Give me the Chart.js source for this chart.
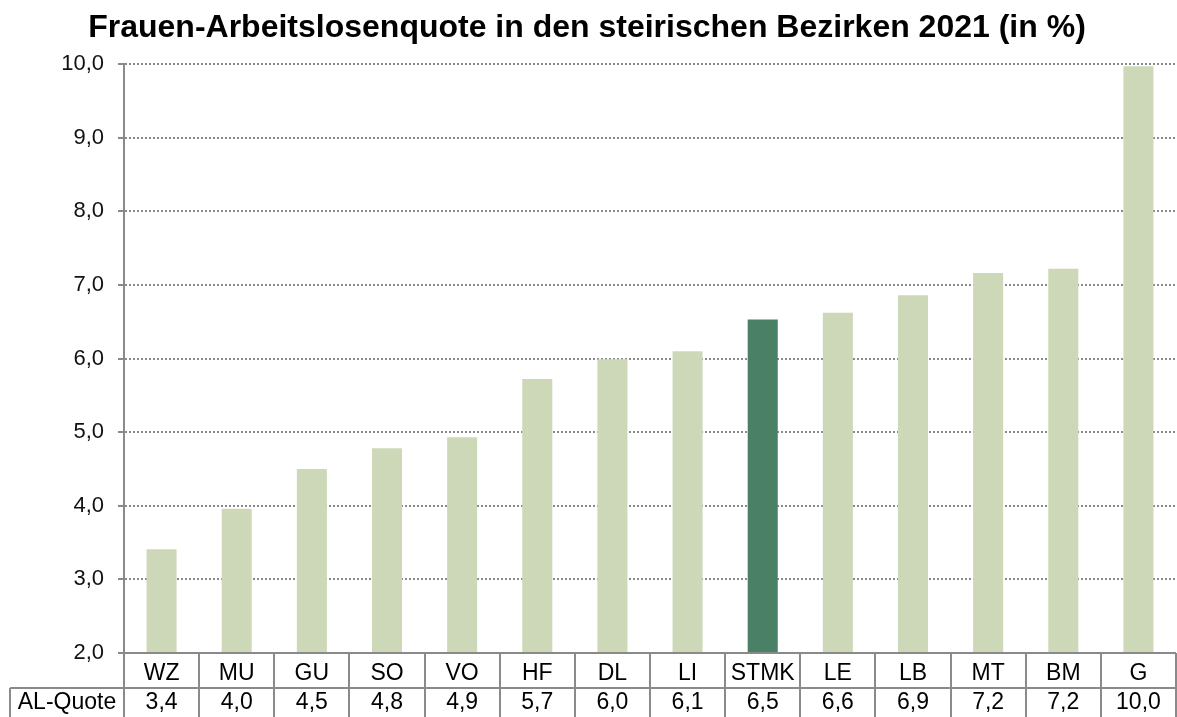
<!DOCTYPE html>
<html>
<head>
<meta charset="utf-8">
<script src="https://cdn.jsdelivr.net/npm/chart.js@4/dist/chart.umd.min.js"></script>
<style>
  html, body { margin: 0; padding: 0; background: #fff; }
  #wrap { width: 1177px; height: 717px; }
</style>
</head>
<body>
<div id="wrap"><canvas id="chart" width="1177" height="717"></canvas></div>
<script>
// data
const TITLE = "Frauen-Arbeitslosenquote in den steirischen Bezirken 2021 (in %)";
const districts = ["WZ", "MU", "GU", "SO", "VO", "HF", "DL", "LI", "STMK", "LE", "LB", "MT", "BM", "G"];
const quote = [3.41, 3.96, 4.5, 4.78, 4.93, 5.72, 5.99, 6.1, 6.53, 6.62, 6.86, 7.16, 7.22, 9.97];
const tableLabel = "AL-Quote";
const tableValues = ["3,4", "4,0", "4,5", "4,8", "4,9", "5,7", "6,0", "6,1", "6,5", "6,6", "6,9", "7,2", "7,2", "10,0"];
const highlight = "STMK";

const LIGHT = "#cdd8b9";
const DARK = "#4a8066";
const LINE = "#8a8a8a";
const FONT = "'Liberation Sans', Arial, sans-serif";

// title drawn centred above the plot
const titlePlugin = {
    id: "titleText",
    afterDraw(chart) {
        const ctx = chart.ctx;
        ctx.save();
        ctx.font = "bold 32px " + FONT;
        ctx.fillStyle = "#000";
        ctx.textAlign = "center";
        ctx.textBaseline = "alphabetic";
        ctx.fillText(TITLE, 587, 37);
        ctx.restore();
    }
};

// data table under the bars (category row + AL-Quote row)
const tablePlugin = {
    id: "dataTable",
    afterDraw(chart) {
        const ctx = chart.ctx;
        const xs = chart.scales.x;
        const area = chart.chartArea;
        const n = districts.length;
        const w = (xs.right - xs.left) / n;
        const top = area.bottom;
        const mid = top + 35;
        const bottom = chart.height;
        const labelLeft = 10;

        ctx.save();
        ctx.strokeStyle = LINE;
        ctx.lineWidth = 2;
        ctx.beginPath();
        // top border (x axis)
        ctx.moveTo(area.left - 6, top);
        ctx.lineTo(area.right, top);
        // row separator
        ctx.moveTo(labelLeft, mid);
        ctx.lineTo(area.right, mid);
        // outer left of AL-Quote cell
        ctx.moveTo(labelLeft, mid);
        ctx.lineTo(labelLeft, bottom);
        // axis line continues down
        ctx.moveTo(area.left, top);
        ctx.lineTo(area.left, bottom);
        for (let i = 1; i <= n; i++) {
            const x = Math.round(xs.left + i * w);
            ctx.moveTo(x, top);
            ctx.lineTo(x, bottom);
        }
        ctx.stroke();

        ctx.fillStyle = "#000";
        ctx.font = "23px " + FONT;
        ctx.textAlign = "center";
        ctx.textBaseline = "alphabetic";
        districts.forEach((d, i) => {
            const cx = xs.getPixelForValue(i);
            ctx.fillText(d, cx, top + 27);
            ctx.fillText(tableValues[i], cx, mid + 21);
        });
        ctx.fillText(tableLabel, (labelLeft + area.left) / 2, mid + 21);
        ctx.restore();
    }
};

new Chart(document.getElementById("chart"), {
    type: "bar",
    data: {
        labels: districts,
        datasets: [{
            data: quote,
            backgroundColor: districts.map(d => d === highlight ? DARK : LIGHT),
            borderWidth: 0,
            barPercentage: 0.4,
            categoryPercentage: 1.0
        }]
    },
    options: {
        responsive: false,
        animation: false,
        layout: { padding: { top: 64, bottom: 64, left: 0, right: 1 } },
        plugins: {
            legend: { display: false },
            title: { display: false },
            tooltip: { enabled: false }
        },
        scales: {
            x: { display: false },
            y: {
                min: 2,
                max: 10,
                afterFit(scale) { scale.width = 124; },
                ticks: {
                    stepSize: 1,
                    padding: 14,
                    color: "#111",
                    font: { family: FONT, size: 22 },
                    callback: v => v.toFixed(1).replace(".", ",")
                },
                grid: {
                    color: LINE,
                    lineWidth: 2,
                    tickLength: 6,
                    tickColor: LINE,
                    tickWidth: 2
                },
                border: { display: true, color: LINE, width: 2, dash: [2, 2] }
            }
        }
    },
    plugins: [titlePlugin, tablePlugin]
});
</script>
</body>
</html>
